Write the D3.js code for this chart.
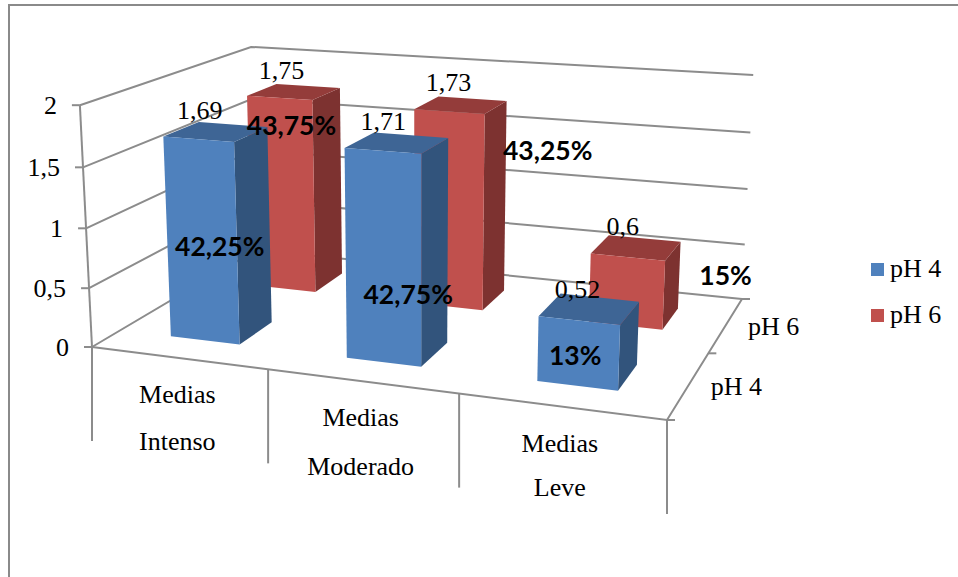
<!DOCTYPE html>
<html>
<head>
<meta charset="utf-8">
<script src="https://cdn.jsdelivr.net/npm/d3@7"></script>
<style>
html,body{margin:0;padding:0;background:#fff;overflow:hidden}
svg{display:block}
text{fill:#000}
.serif{font-family:"Liberation Serif",serif;font-size:26px}
.pct{font-family:Lato,"Open Sans",sans-serif;font-weight:700;font-size:26.5px}
</style>
</head>
<body>
<svg id="chart" width="958" height="577"></svg>
<script>
// Chart values
const categories = ["Intenso", "Moderado", "Leve"];
const categoryPrefix = "Medias";
const seriesNames = ["pH 4", "pH 6"];
const valuesPh4 = [1.69, 1.71, 0.52];
const valuesPh6 = [1.75, 1.73, 0.6];
const valueLabelsPh4 = ["1,69", "1,71", "0,52"];
const valueLabelsPh6 = ["1,75", "1,73", "0,6"];
const percentPh4 = ["42,25%", "42,75%", "13%"];
const percentPh6 = ["43,75%", "43,25%", "15%"];
const yTicks = [0, 0.5, 1, 1.5, 2];
const yTickLabels = ["0", "0,5", "1", "1,5", "2"];

// Colours for each bar face, one entry per series
const faceColors = {
  "pH 4": {front: "#4F81BD", side: "#32547C", top: "#3E6595"},
  "pH 6": {front: "#C0504D", side: "#7D3230", top: "#943C3A"}
};
const gridColor = "#8C8C8C";

// Projection of the chart box onto the page: floor corners and two wall tops
const floorQuad = [[92, 347], [667, 420], [742, 299], [256, 250]];
const topAnchors = [
  {x: 0, y: 0, p: [79, 104]},
  {x: 0, y: 1, p: [252, 47]},
  {x: 1, y: 1, p: [753, 76]}
];

// Unit square to quadrilateral homography (Heckbert), columns for x, y, 1
function squareToQuad(q) {
  const [[x0, y0], [x1, y1], [x2, y2], [x3, y3]] = q;
  const dx1 = x1 - x2, dx2 = x3 - x2, sx = x0 - x1 + x2 - x3;
  const dy1 = y1 - y2, dy2 = y3 - y2, sy = y0 - y1 + y2 - y3;
  const den = dx1 * dy2 - dx2 * dy1;
  const g = (sx * dy2 - dx2 * sy) / den;
  const h = (dx1 * sy - sx * dy1) / den;
  return [
    [x1 - x0 + g * x1, x3 - x0 + h * x3, x0],
    [y1 - y0 + g * y1, y3 - y0 + h * y3, y0],
    [g, h, 1]
  ];
}
const H = squareToQuad(floorQuad);
const applyH = (x, y) => H.map(r => r[0] * x + r[1] * y + r[2]);

// Height column of the projection from the wall tops, by least squares
function solveHeightColumn() {
  const rows = [], rhs = [];
  topAnchors.forEach(a => {
    const [X, Y, W] = applyH(a.x, a.y);
    const [u, v] = a.p;
    rows.push([1, 0, -u]); rhs.push(u * W - X);
    rows.push([0, 1, -v]); rhs.push(v * W - Y);
  });
  const A = d3.range(3).map(i => d3.range(3).map(j => d3.sum(rows, r => r[i] * r[j])));
  const b = d3.range(3).map(i => d3.sum(rows, (r, k) => r[i] * rhs[k]));
  for (let i = 0; i < 3; i++) {
    for (let k = i + 1; k < 3; k++) {
      const f = A[k][i] / A[i][i];
      for (let j = i; j < 3; j++) A[k][j] -= f * A[i][j];
      b[k] -= f * b[i];
    }
  }
  const s = [0, 0, 0];
  for (let i = 2; i >= 0; i--) {
    s[i] = (b[i] - d3.sum(d3.range(i + 1, 3), j => A[i][j] * s[j])) / A[i][i];
  }
  return s;
}
const heightCol = solveHeightColumn();

// Scales into the unit box
const xScale = d3.scaleBand().domain(categories).range([0, 1]).paddingInner(0.6).paddingOuter(0.3);
const xCell = d3.scaleBand().domain(categories).range([0, 1]);
const depthScale = d3.scaleBand().domain(seriesNames).range([0, 1]).paddingInner(0.6).paddingOuter(0.3);
const depthCell = d3.scaleBand().domain(seriesNames).range([0, 1]);
const zScale = d3.scaleLinear().domain([0, 2]).range([0, 1]);

function project(x, y, z) {
  const [X, Y, W] = applyH(x, y);
  const w = W + heightCol[2] * z;
  return [(X + heightCol[0] * z) / w, (Y + heightCol[1] * z) / w];
}

const svg = d3.select("#chart");
const line = d3.line();
const poly = pts => line(pts) + "Z";

// Outer frame
svg.append("path")
  .attr("d", "M9,577V5H958")
  .attr("fill", "none").attr("stroke", "#8A8A8A").attr("stroke-width", 2);

const grid = svg.append("g").attr("fill", "none").attr("stroke", gridColor).attr("stroke-width", 2);

// Wall gridlines, floor edges and vertical axis
yTicks.forEach(v => {
  const z = zScale(v);
  grid.append("path").attr("d", line([project(0, 0, z), project(0, 1, z), project(1, 1, z)]));
  const p = project(0, 0, z);
  grid.append("path").attr("d", line([p, [p[0] - 8, p[1]]]));
});
grid.append("path").attr("d", line([project(0, 0, 0), project(0, 0, 1)]));
grid.append("path").attr("d", line([project(0, 0, 0), project(1, 0, 0), project(1, 1, 0)]));

// Category separators under the front edge
const sepLength = 94;
d3.range(4).forEach(i => {
  const p = project(i / 3, 0, 0);
  grid.append("path").attr("d", line([p, [p[0], p[1] + sepLength]]));
});

// Depth-axis ticks
[0, 0.5, 1].forEach(t => {
  const p = project(1, t, 0);
  grid.append("path").attr("d", line([p, [p[0] + 8, p[1]]]));
});

// Bars, back row first
const rows = [
  {name: "pH 6", values: valuesPh6},
  {name: "pH 4", values: valuesPh4}
];
const barsLayer = svg.append("g");
const vertices = {};
rows.forEach(row => {
  const col = faceColors[row.name];
  row.values.forEach((v, i) => {
    const c = categories[i];
    const x0 = xScale(c), x1 = x0 + xScale.bandwidth();
    const y0 = depthScale(row.name), y1 = y0 + depthScale.bandwidth();
    const z = zScale(v);
    const f = (a, b, h) => project(a, b, h);
    const g = barsLayer.append("g");
    g.append("path").attr("fill", col.side)
      .attr("d", poly([f(x1, y0, 0), f(x1, y1, 0), f(x1, y1, z), f(x1, y0, z)]));
    g.append("path").attr("fill", col.top)
      .attr("d", poly([f(x0, y0, z), f(x1, y0, z), f(x1, y1, z), f(x0, y1, z)]));
    g.append("path").attr("fill", col.front)
      .attr("d", poly([f(x0, y0, 0), f(x1, y0, 0), f(x1, y0, z), f(x0, y0, z)]));
    vertices[row.name + i] = {backTop: f(x0, y1, z), frontCenter: f((x0 + x1) / 2, y0, z / 2)};
  });
});

// Value labels above each bar
const valueNudge = {
  "pH 4": [[1, -3], [9, -2], [17, 4]],
  "pH 6": [[5, -5], [10, -6], [14, 0]]
};
[[seriesNames[0], valueLabelsPh4], [seriesNames[1], valueLabelsPh6]].forEach(([name, labels]) => {
  labels.forEach((t, i) => {
    const p = vertices[name + i].backTop;
    svg.append("text").attr("class", "serif").attr("text-anchor", "middle")
      .attr("x", p[0] + valueNudge[name][i][0]).attr("y", p[1] + valueNudge[name][i][1])
      .text(t);
  });
});

// Percentage labels, placed relative to the front face of each bar
const percentNudge = {
  "pH 4": [[18, 15], [25, 46], [-3, 12]],
  "pH 6": [[10, -60], [99, -50], [99, -7]]
};
[[seriesNames[0], percentPh4], [seriesNames[1], percentPh6]].forEach(([name, labels]) => {
  labels.forEach((t, i) => {
    const p = vertices[name + i].frontCenter;
    svg.append("text").attr("class", "pct").attr("text-anchor", "middle")
      .attr("x", p[0] + percentNudge[name][i][0]).attr("y", p[1] + percentNudge[name][i][1])
      .text(t);
  });
});

// Vertical axis labels
yTicks.forEach((v, i) => {
  const p = project(0, 0, zScale(v));
  svg.append("text").attr("class", "serif").attr("text-anchor", "end")
    .attr("x", p[0] - 23).attr("y", p[1] + 9).text(yTickLabels[i]);
});

// Category labels, two lines under each cell
const secondLineGap = [92, 94, 89];
categories.forEach((c, i) => {
  const m = xCell(c) + xCell.bandwidth() / 2;
  const p = project(m, 0, 0);
  const cx = p[0] - 1;
  svg.append("text").attr("class", "serif").attr("text-anchor", "middle")
    .attr("x", cx).attr("y", p[1] + 45).text(categoryPrefix);
  svg.append("text").attr("class", "serif").attr("text-anchor", "middle")
    .attr("x", cx).attr("y", p[1] + secondLineGap[i]).text(c);
});

// Depth-axis labels
seriesNames.forEach(name => {
  const p = project(1, depthCell(name) + depthCell.bandwidth() / 2, 0);
  svg.append("text").attr("class", "serif").attr("x", p[0] + 22).attr("y", p[1] + 10).text(name);
});

// Legend
const legendY = d3.scalePoint().domain(seriesNames).range([270, 316]);
seriesNames.forEach(name => {
  const y = legendY(name);
  svg.append("rect").attr("x", 871).attr("y", y - 7).attr("width", 13).attr("height", 13)
    .attr("fill", faceColors[name].front);
  svg.append("text").attr("class", "serif").attr("x", 890).attr("y", y + 7).text(name);
});
</script>
</body>
</html>
